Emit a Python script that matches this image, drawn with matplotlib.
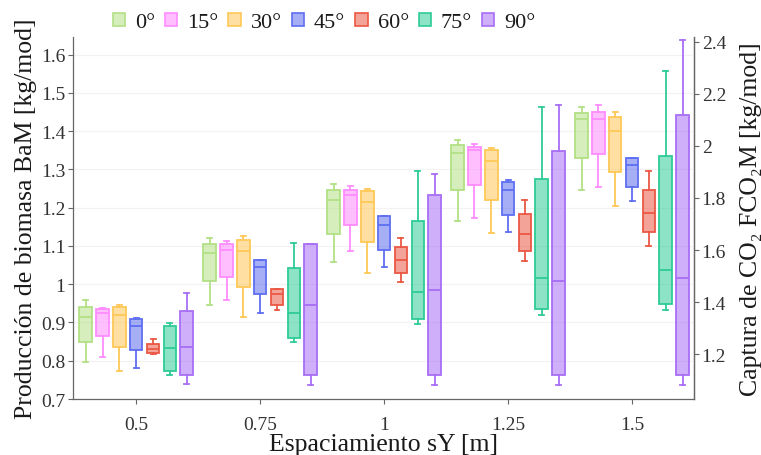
import matplotlib
matplotlib.use("Agg")
import matplotlib.pyplot as plt
from matplotlib.patches import Patch
import numpy as np

plt.rcParams["font.family"] = ["Liberation Serif", "DejaVu Serif"]

# Spacing groups (x categories) and inclination angles (dodged series)
spacing_labels = ["0.5", "0.75", "1", "1.25", "1.5"]
angle_labels = ["0°", "15°", "30°", "45°", "60°", "75°", "90°"]
angle_colors = ["#b3e086", "#ff8cff", "#ffc857", "#5e6ef0", "#eb5844", "#2ecc96", "#a86ef5"]

# Box statistics, one row per angle, one column per spacing [kg/mod]
whisker_low = [
    [0.796, 0.945, 1.058, 1.164, 1.247],
    [0.810, 0.958, 1.087, 1.172, 1.253],
    [0.772, 0.915, 1.030, 1.134, 1.205],
    [0.782, 0.925, 1.046, 1.137, 1.218],
    [0.817, 0.932, 1.006, 1.060, 1.101],
    [0.763, 0.850, 0.895, 0.920, 0.933],
    [0.738, 0.737, 0.737, 0.737, 0.737],
]
box_low = [
    [0.849, 1.008, 1.132, 1.247, 1.330],
    [0.864, 1.018, 1.155, 1.260, 1.341],
    [0.836, 0.992, 1.110, 1.219, 1.293],
    [0.828, 0.975, 1.090, 1.181, 1.254],
    [0.821, 0.946, 1.029, 1.088, 1.136],
    [0.774, 0.860, 0.909, 0.934, 0.948],
    [0.764, 0.763, 0.763, 0.763, 0.763],
]
median = [
    [0.913, 1.082, 1.220, 1.342, 1.431],
    [0.925, 1.090, 1.232, 1.350, 1.432],
    [0.919, 1.087, 1.215, 1.323, 1.401],
    [0.891, 1.044, 1.155, 1.245, 1.312],
    [0.830, 0.974, 1.064, 1.131, 1.186],
    [0.832, 0.924, 0.980, 1.015, 1.036],
    [0.837, 0.945, 0.984, 1.008, 1.017],
]
box_high = [
    [0.940, 1.106, 1.247, 1.364, 1.447],
    [0.935, 1.106, 1.247, 1.358, 1.451],
    [0.940, 1.116, 1.243, 1.350, 1.436],
    [0.909, 1.063, 1.178, 1.268, 1.331],
    [0.843, 0.988, 1.098, 1.183, 1.247],
    [0.890, 1.042, 1.166, 1.274, 1.334],
    [0.930, 1.105, 1.233, 1.347, 1.441],
]
whisker_high = [
    [0.958, 1.120, 1.263, 1.377, 1.462],
    [0.937, 1.114, 1.256, 1.366, 1.467],
    [0.945, 1.127, 1.249, 1.356, 1.449],
    [0.911, 1.063, 1.179, 1.271, 1.331],
    [0.856, 0.988, 1.121, 1.221, 1.296],
    [0.898, 1.108, 1.297, 1.463, 1.556],
    [0.976, 1.105, 1.289, 1.467, 1.637],
]

# Biomass -> CO2 capture conversion factor for the secondary axis
co2_factor = 1.4688

fig = plt.figure(figsize=(7.61, 4.56), dpi=100)
ax = fig.add_axes([0.0959, 0.1228, 0.8161, 0.7939])

n_ang = len(angle_labels)
step = 0.1357
box_w = 0.101
group_x = np.arange(1, len(spacing_labels) + 1)

for a in range(n_ang):
    col = angle_colors[a]
    offset = (a - (n_ang - 1) / 2) * step
    stats = []
    for g in range(len(spacing_labels)):
        stats.append(dict(whislo=whisker_low[a][g], q1=box_low[a][g], med=median[a][g],
                          q3=box_high[a][g], whishi=whisker_high[a][g], fliers=[]))
    ax.bxp(stats, positions=group_x + offset, widths=box_w, patch_artist=True,
           showfliers=False, capwidths=0.04,
           boxprops=dict(facecolor=matplotlib.colors.to_rgba(col, 0.55), edgecolor=col, linewidth=1.3),
           medianprops=dict(color=col, linewidth=1.3),
           whiskerprops=dict(color=col, linewidth=1.3),
           capprops=dict(color=col, linewidth=1.3),
           manage_ticks=False, zorder=3)

ax.set_xlim(0.49, 5.50)
ax.set_ylim(0.7, 1.646)
ax.set_xticks(group_x)
ax.set_xticklabels(spacing_labels)
yt = np.round(np.arange(0.7, 1.61, 0.1), 1)
ax.set_yticks(yt)
ax.set_yticklabels([f"{v:g}" for v in yt])
ax.yaxis.grid(True, color="#f2f2f2", linewidth=0.9, zorder=0)
ax.set_axisbelow(True)

spine_c = "#666666"
ax.spines["top"].set_visible(False)
for s in ["left", "bottom", "right"]:
    ax.spines[s].set_color(spine_c)
    ax.spines[s].set_linewidth(0.9)
ax.tick_params(axis="both", colors=spine_c, labelcolor="#333333", labelsize=14,
               length=3.5, width=0.8, pad=2)
ax.tick_params(axis="x", pad=9)

ax.set_xlabel("Espaciamiento sY [m]", fontsize=18.5, color="#1a1a1a", labelpad=0)
ax.set_ylabel("Producción de biomasa BaM [kg/mod]", fontsize=18.5, color="#1a1a1a", labelpad=3)

sec = ax.secondary_yaxis("right", functions=(lambda v: v * co2_factor, lambda v: v / co2_factor))
rt = np.round(np.arange(1.2, 2.41, 0.2), 1)
sec.set_yticks(rt)
sec.set_yticklabels([f"{v:g}" for v in rt])
sec.spines["right"].set_color(spine_c)
sec.spines["right"].set_linewidth(0.9)
sec.tick_params(axis="y", colors=spine_c, labelcolor="#333333", labelsize=14,
                length=3.5, width=0.8, pad=2)
sec.set_ylabel("Captura de CO\u2082 FCO\u2082M [kg/mod]", fontsize=18.5, color="#1a1a1a",
               rotation=90, labelpad=10)

handles = [Patch(facecolor=matplotlib.colors.to_rgba(c, 0.55), edgecolor=c, linewidth=1.2)
           for c in angle_colors]
fig.legend(handles, angle_labels, loc="center", bbox_to_anchor=(0.426, 0.948), ncol=n_ang,
           frameon=False, fontsize=16, handlelength=0.55, handleheight=0.55,
           handletextpad=0.45, columnspacing=0.45, labelcolor="#1a1a1a")

fig.savefig("out.png", dpi=100)
